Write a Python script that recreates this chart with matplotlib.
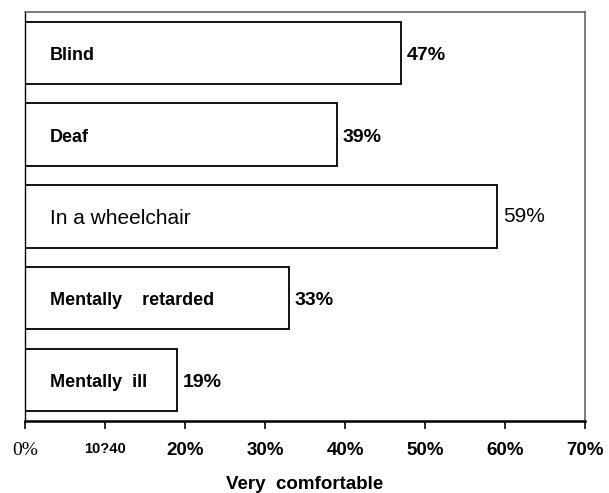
import matplotlib.pyplot as plt
from matplotlib import font_manager

# data
groups = ['Blind', 'Deaf', 'In a wheelchair', 'Mentally    retarded', 'Mentally  ill']
values = [47, 39, 59, 33, 19]
value_labels = ['47%', '39%', '59%', '33%', '19%']
bold = [True, True, False, True, True]
tick_vals = [0, 10, 20, 30, 40, 50, 60, 70]
tick_labels = ['0%', '10?40', '20%', '30%', '40%', '50%', '60%', '70%']

plt.rcParams['font.family'] = ['Liberation Sans', 'DejaVu Sans']

# narrow face for the plain (non-bold) labels, if it is there
try:
    font_manager.findfont('Liberation Sans Narrow', fallback_to_default=False)
    narrow, narrow_size = 'Liberation Sans Narrow', 17.5
except Exception:
    narrow, narrow_size = 'Liberation Sans', 15

fig = plt.figure(figsize=(6.09, 4.93), dpi=100)
ax = fig.add_axes([0.041, 0.146, 0.920, 0.830])

pos = list(range(len(groups)))[::-1]
ax.barh(pos, values, height=0.76, color='white', edgecolor='black', linewidth=1.3)

for p, g, v, lab, b in zip(pos, groups, values, value_labels, bold):
    if b:
        ax.text(3.1, p - 0.03, g, ha='left', va='center', fontsize=13, fontweight='bold')
        ax.text(v + 0.7, p - 0.03, lab, ha='left', va='center', fontsize=14, fontweight='bold')
    else:
        ax.text(3.1, p - 0.03, g, ha='left', va='center', fontsize=narrow_size, family=narrow)
        ax.text(v + 0.8, p + 0.0, lab, ha='left', va='center', fontsize=narrow_size, family=narrow)

ax.set_xlim(0, 70)
ax.set_ylim(-0.5, 4.5)
ax.set_yticks([])
ax.set_xticks(tick_vals)
ax.set_xticklabels(tick_labels)
for i, t in enumerate(ax.get_xticklabels()):
    if i == 0:
        t.set_fontfamily('Liberation Serif')
        t.set_fontsize(14)
    elif i == 1:
        t.set_fontweight('bold')
        t.set_fontsize(10.5)
    else:
        t.set_fontweight('bold')
        t.set_fontsize(13.5)
ax.tick_params(axis='x', direction='out', length=6, width=1.2, pad=9)

ax.spines['bottom'].set_linewidth(1.8)
ax.spines['left'].set_linewidth(1.0)
for s in ['top', 'right']:
    ax.spines[s].set_color('#666666')
    ax.spines[s].set_linewidth(1.2)

ax.set_xlabel('Very  comfortable', fontsize=13.5, fontweight='bold', labelpad=12)

plt.savefig('out.png', dpi=100)
plt.close()
